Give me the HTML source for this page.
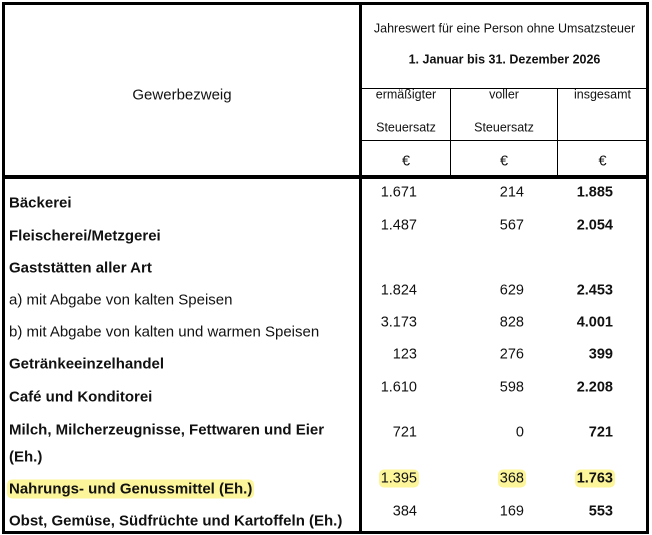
<!DOCTYPE html>
<html><head><meta charset="utf-8"><style>
body{margin:0;width:652px;height:535px;background:#fff;font-family:"Liberation Sans",Arial,sans-serif;color:#111;position:relative;overflow:hidden}
.b{position:absolute;background:#000}
.t{position:absolute;white-space:nowrap;font-size:15px;line-height:17px;transform:translateY(-50%)}
.n{font-size:14.5px}
.s{font-size:12.5px}
.c{text-align:center}
.r{text-align:right}
.bold{font-weight:bold}
.hl{background:#fdf59a;border-radius:5px;padding:1px 2px}
</style></head><body>
<div class="b" style="left:2px;top:2px;width:647px;height:3px"></div>
<div class="b" style="left:2px;top:531px;width:647px;height:3px"></div>
<div class="b" style="left:2px;top:2px;width:3px;height:532px"></div>
<div class="b" style="left:646px;top:2px;width:3px;height:532px"></div>
<div class="b" style="left:359px;top:2px;width:3px;height:532px"></div>
<div class="b" style="left:2px;top:175px;width:647px;height:4px"></div>
<div class="b" style="left:361px;top:88px;width:286px;height:1px"></div>
<div class="b" style="left:361px;top:140px;width:286px;height:1px"></div>
<div class="b" style="left:450px;top:88px;width:1px;height:88px"></div>
<div class="b" style="left:557px;top:88px;width:1px;height:88px"></div>

<div class="t c" style="left:5px;width:354px;top:95px">Gewerbezweig</div>
<div class="t c s" style="left:362px;width:285px;top:29px">Jahreswert für eine Person ohne Umsatzsteuer</div>
<div class="t c s bold" style="left:362px;width:285px;top:60px">1. Januar bis 31. Dezember 2026</div>
<div class="t c s" style="left:362px;width:88px;top:95px">ermäßigter</div>
<div class="t c s" style="left:362px;width:88px;top:128px">Steuersatz</div>
<div class="t c s" style="left:451px;width:106px;top:95px">voller</div>
<div class="t c s" style="left:451px;width:106px;top:128px">Steuersatz</div>
<div class="t c s" style="left:558px;width:89px;top:95px">insgesamt</div>
<div class="t c n" style="left:362px;width:88px;top:162px">€</div>
<div class="t c n" style="left:451px;width:106px;top:162px">€</div>
<div class="t c n" style="left:558px;width:89px;top:162px">€</div>

<div class="t bold" style="left:9px;top:203px">Bäckerei</div>
<div class="t bold" style="left:9px;top:236px">Fleischerei/Metzgerei</div>
<div class="t bold" style="left:9px;top:268px">Gaststätten aller Art</div>
<div class="t" style="left:9px;top:300px">a) mit Abgabe von kalten Speisen</div>
<div class="t" style="left:9px;top:332px">b) mit Abgabe von kalten und warmen Speisen</div>
<div class="t bold" style="left:9px;top:364px">Getränkeeinzelhandel</div>
<div class="t bold" style="left:9px;top:397px">Café und Konditorei</div>
<div class="t bold" style="left:9px;top:430px">Milch, Milcherzeugnisse, Fettwaren und Eier</div>
<div class="t bold" style="left:9px;top:457px">(Eh.)</div>
<div class="t bold" style="left:7px;top:489px"><span class="hl">Nahrungs- und Genussmittel (Eh.)</span></div>
<div class="t bold" style="left:9px;top:521px">Obst, Gemüse, Südfrüchte und Kartoffeln (Eh.)</div>

<div class="t r n" style="right:235px;top:193px">1.671</div>
<div class="t r n" style="right:128px;top:193px">214</div>
<div class="t r n bold" style="right:39px;top:193px">1.885</div>
<div class="t r n" style="right:235px;top:226px">1.487</div>
<div class="t r n" style="right:128px;top:226px">567</div>
<div class="t r n bold" style="right:39px;top:226px">2.054</div>
<div class="t r n" style="right:235px;top:291px">1.824</div>
<div class="t r n" style="right:128px;top:291px">629</div>
<div class="t r n bold" style="right:39px;top:291px">2.453</div>
<div class="t r n" style="right:235px;top:323px">3.173</div>
<div class="t r n" style="right:128px;top:323px">828</div>
<div class="t r n bold" style="right:39px;top:323px">4.001</div>
<div class="t r n" style="right:235px;top:355px">123</div>
<div class="t r n" style="right:128px;top:355px">276</div>
<div class="t r n bold" style="right:39px;top:355px">399</div>
<div class="t r n" style="right:235px;top:388px">1.610</div>
<div class="t r n" style="right:128px;top:388px">598</div>
<div class="t r n bold" style="right:39px;top:388px">2.208</div>
<div class="t r n" style="right:235px;top:433px">721</div>
<div class="t r n" style="right:128px;top:433px">0</div>
<div class="t r n bold" style="right:39px;top:433px">721</div>
<div class="t r n" style="right:233px;top:479px"><span class="hl">1.395</span></div>
<div class="t r n" style="right:126px;top:479px"><span class="hl">368</span></div>
<div class="t r n bold" style="right:37px;top:479px"><span class="hl">1.763</span></div>
<div class="t r n" style="right:235px;top:512px">384</div>
<div class="t r n" style="right:128px;top:512px">169</div>
<div class="t r n bold" style="right:39px;top:512px">553</div>
</body></html>
